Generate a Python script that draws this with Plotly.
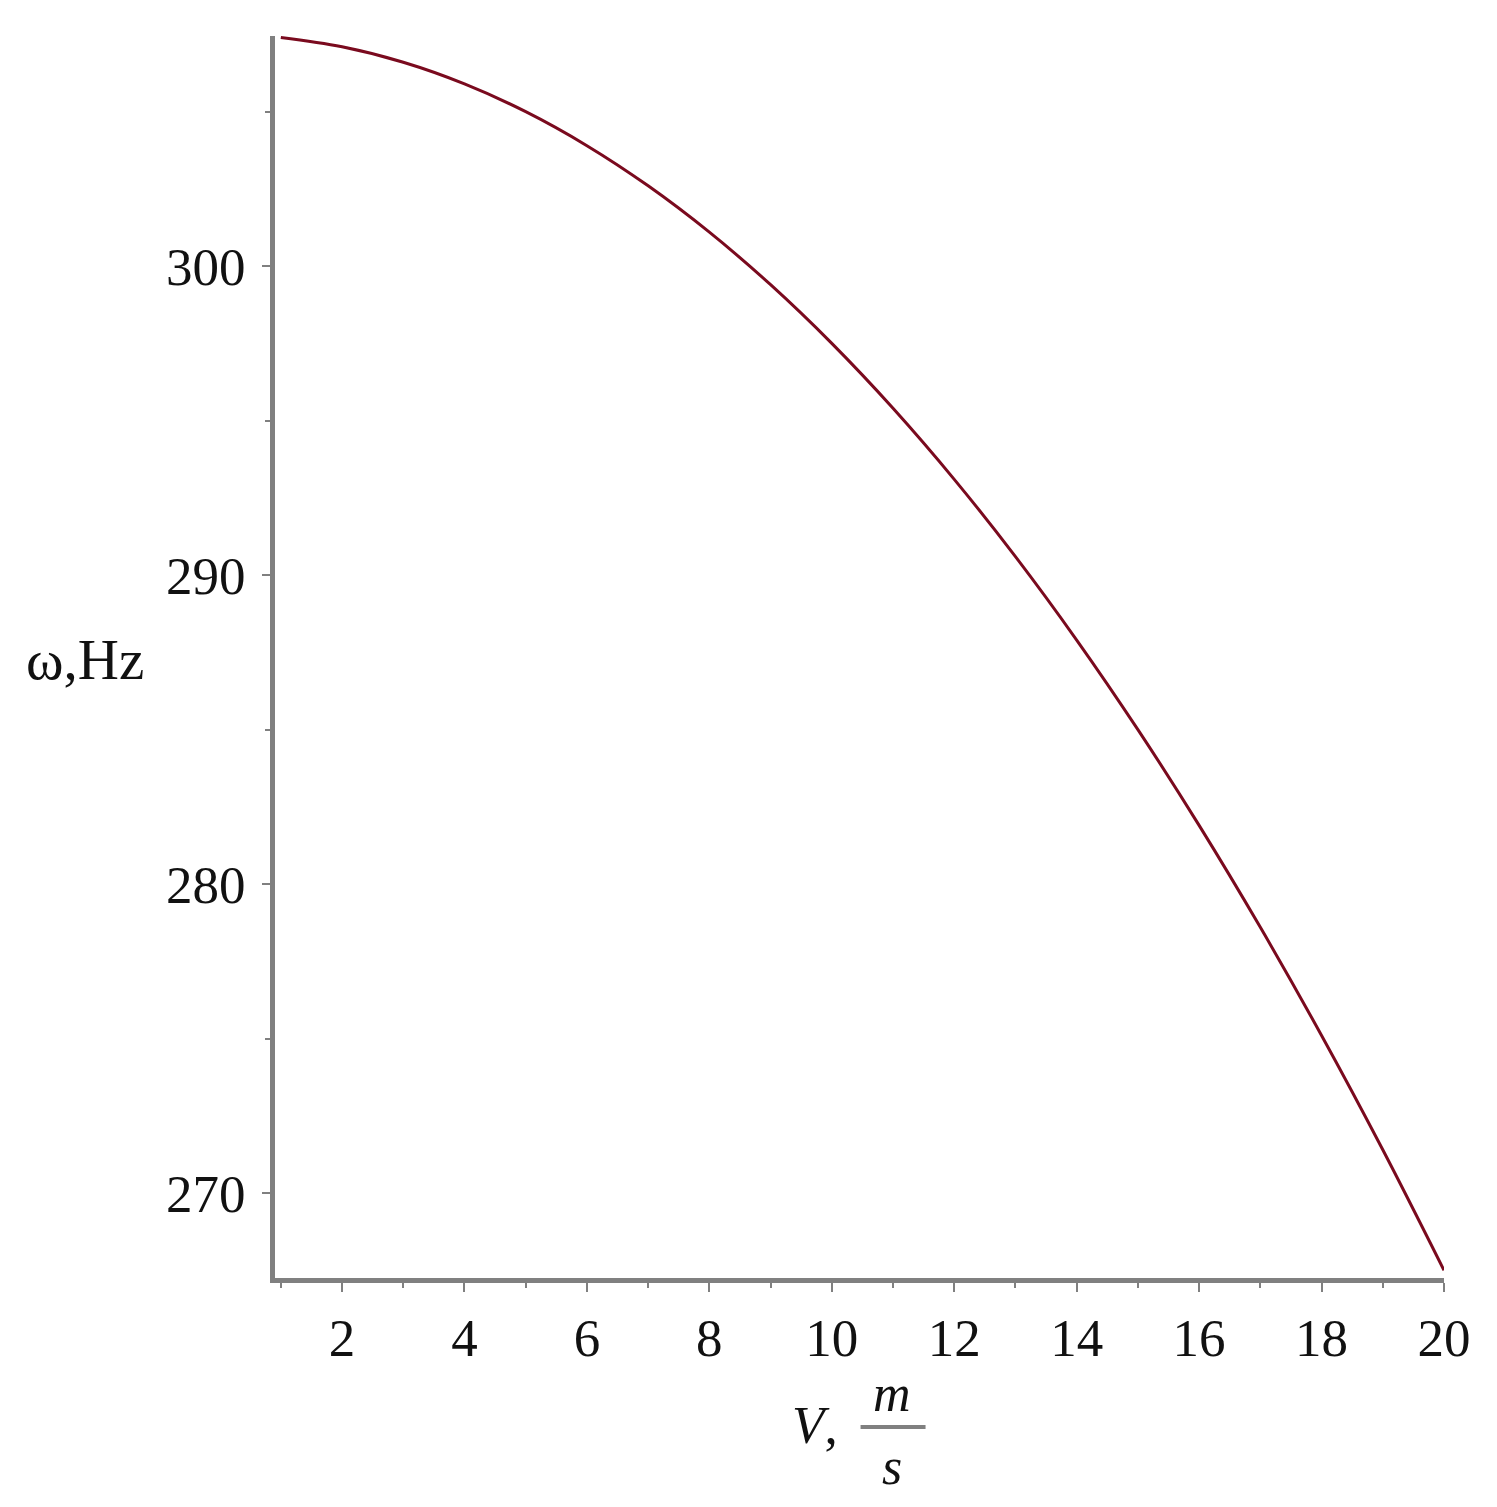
import plotly.graph_objects as go

V = [1, 2, 3, 4, 5, 6, 7, 8, 9, 10, 11, 12, 13, 14, 15, 16, 17, 18, 19, 20]
omega = [307.4, 307.1, 306.6, 305.9, 305.0, 303.9, 302.6, 301.1, 299.4, 297.5,
         295.4, 293.1, 290.6, 287.9, 285.0, 281.9, 278.6, 275.1, 271.4, 267.5]
x_ticks = [2, 4, 6, 8, 10, 12, 14, 16, 18, 20]
y_ticks = [270, 280, 290, 300]

FONT = "Liberation Serif, Times New Roman, serif"
AXIS = "#808080"
TXT = "#111111"

fig = go.Figure()
fig.add_trace(go.Scatter(x=V, y=omega, mode="lines",
                         line=dict(color="#7a0a1e", width=3, shape="spline"),
                         showlegend=False))

fig.update_layout(
    width=1497, height=1507,
    margin=dict(l=267, r=61, t=28, b=237),
    paper_bgcolor="white", plot_bgcolor="white",
    font=dict(family=FONT, size=53, color=TXT),
)
fig.update_xaxes(range=[0.905, 20.0], tickvals=x_ticks, ticktext=[str(t) for t in x_ticks],
                 showgrid=False, zeroline=False, showline=True, linecolor=AXIS, linewidth=5,
                 ticks="outside", ticklen=9, tickwidth=1.5, tickcolor=AXIS,
                 ticklabelstandoff=0,
                 minor=dict(dtick=1, tick0=1, ticks="outside", ticklen=5, tickcolor=AXIS, tickwidth=1.5),
                 tickfont=dict(family=FONT, size=53, color=TXT))
fig.update_yaxes(range=[267.25, 307.45], tickvals=y_ticks, ticktext=[str(t) for t in y_ticks],
                 showgrid=False, zeroline=False, showline=True, linecolor=AXIS, linewidth=5,
                 ticks="outside", ticklen=8, tickwidth=1.5, tickcolor=AXIS,
                 ticklabelstandoff=6,
                 minor=dict(dtick=5, tick0=265, ticks="outside", ticklen=5, tickcolor=AXIS, tickwidth=1.5),
                 tickfont=dict(family=FONT, size=53, color=TXT))

# y-axis title
fig.add_annotation(text="ω,Hz", xref="paper", yref="paper", x=-0.1627, y=0.4976,
                   xanchor="center", yanchor="middle", showarrow=False,
                   font=dict(family=FONT, size=57, color=TXT))
# x-axis title: V, m/s as a fraction
fig.add_annotation(text="<i>V</i>,", xref="paper", yref="paper", x=0.4837, y=-0.1184,
                   xanchor="right", yanchor="middle", showarrow=False,
                   font=dict(family=FONT, size=53, color=TXT))
fig.add_annotation(text="<i>m</i>", xref="paper", yref="paper", x=0.528, y=-0.0926,
                   xanchor="center", yanchor="middle", showarrow=False,
                   font=dict(family=FONT, size=52, color=TXT))
fig.add_annotation(text="<i>s</i>", xref="paper", yref="paper", x=0.528, y=-0.1514,
                   xanchor="center", yanchor="middle", showarrow=False,
                   font=dict(family=FONT, size=52, color=TXT))
fig.add_shape(type="line", xref="paper", yref="paper", x0=0.5009, x1=0.5565,
              y0=-0.120, y1=-0.120, line=dict(color=AXIS, width=4))

fig.write_html("out.html")
